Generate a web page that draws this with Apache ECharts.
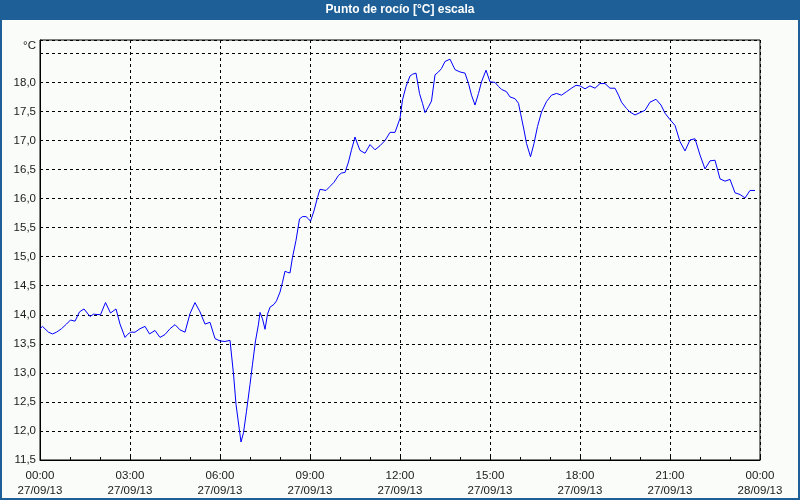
<!DOCTYPE html>
<html><head><meta charset="utf-8">
<script src="https://cdn.jsdelivr.net/npm/echarts@6/dist/echarts.min.js"></script>
<style>html,body{margin:0;padding:0;background:#fafcfa}#c{width:800px;height:500px}</style>
</head><body><div id="c"></div>
<script>
const titleText = 'Punto de rocío [°C] escala';
const unitLabel = '°C';
const dateLabels = ['27/09/13', '28/09/13'];
const minutes = [
  0,5,17,25,33,43,53,61,70,79,88,100,107,121,131,141,152,160,170,175,
  181,190,200,210,219,230,240,250,260,270,280,290,300,310,320,330,340,350,360,370,
  380,383,387,392,399,402,407,413,420,425,431,437,440,445,450,455,460,468,473,480,
  485,490,495,500,505,512,519,525,532,537,541,548,555,560,572,580,588,597,603,610,
  617,623,630,635,640,650,660,670,680,690,700,710,720,725,732,740,745,752,759,765,
  770,777,783,790,797,803,810,820,830,840,850,857,863,870,877,883,892,900,910,917,
  923,933,940,950,957,961,968,973,981,988,995,1003,1013,1023,1033,1043,1053,1063,1072,1080,
  1090,1100,1110,1120,1130,1140,1150,1157,1163,1173,1180,1190,1200,1210,1220,1232,1242,1250,1260,1270,
  1280,1290,1300,1310,1320,1330,1340,1350,1360,1370,1380,1390,1400,1410,1420,1430
];
const dewPoint = [
  13.76,13.80,13.70,13.67,13.70,13.76,13.84,13.91,13.89,14.05,14.10,13.97,14.01,14.00,14.21,14.03,14.10,13.84,13.61,13.66,
  13.70,13.70,13.76,13.80,13.67,13.73,13.61,13.66,13.76,13.83,13.74,13.70,14.02,14.21,14.05,13.84,13.87,13.59,13.55,13.54,
  13.56,13.57,12.98,12.46,12.00,11.81,11.97,12.34,12.80,13.15,13.55,13.84,14.04,13.93,13.75,14.01,14.13,14.18,14.24,14.39,
  14.56,14.75,14.73,14.72,14.99,15.28,15.65,15.69,15.69,15.65,15.61,15.79,16.02,16.16,16.14,16.21,16.28,16.40,16.44,16.45,
  16.63,16.84,17.06,16.94,16.83,16.78,16.93,16.84,16.91,17.00,17.14,17.14,17.38,17.70,17.93,18.11,18.14,18.16,17.81,17.64,
  17.48,17.58,17.68,18.13,18.18,18.24,18.36,18.40,18.22,18.18,18.16,17.98,17.78,17.61,17.81,18.01,18.21,18.01,18.00,17.93,
  17.88,17.84,17.75,17.72,17.64,17.47,17.18,16.95,16.72,16.95,17.24,17.49,17.67,17.78,17.81,17.78,17.84,17.90,17.95,17.94,
  17.89,17.94,17.90,17.98,17.98,17.90,17.90,17.78,17.66,17.55,17.49,17.44,17.48,17.52,17.66,17.71,17.61,17.47,17.36,17.26,
  16.98,16.82,17.01,17.03,16.75,16.51,16.65,16.66,16.34,16.30,16.33,16.10,16.07,16.01,16.14,16.14
];

const chart = echarts.init(document.getElementById('c'), null, {renderer: 'canvas'});
const font = 'Liberation Sans, Arial, sans-serif';
const pad = n => (n < 10 ? '0' : '') + n;
chart.setOption({
  animation: false,
  backgroundColor: '#fafcfa',
  title: {
    text: titleText, left: 'center', top: 4, padding: 0,
    textStyle: {color: '#ffffff', fontWeight: 'bold', fontSize: 12, fontFamily: font}
  },
  graphic: [
    {type: 'rect', z: -10, shape: {x: 0, y: 0, width: 800, height: 20}, style: {fill: '#1d5f96'}},
    {type: 'rect', z: -10, shape: {x: 1, y: 1, width: 798, height: 498}, style: {fill: null, stroke: '#1d5f96', lineWidth: 2}}
  ],
  grid: {left: 40, right: 40, top: 40, bottom: 40, show: true, borderColor: '#000', borderWidth: 1, backgroundColor: 'transparent'},
  xAxis: {
    type: 'value', min: 0, max: 1440, interval: 180,
    axisLine: {lineStyle: {color: '#000', width: 1}},
    axisTick: {inside: true, length: 3, lineStyle: {color: '#000'}},
    minorTick: {show: true, splitNumber: 3, length: 3, lineStyle: {color: '#000'}},
    splitLine: {show: true, lineStyle: {color: '#000', type: [3, 3], width: 1}},
    axisLabel: {
      color: '#1a1a1a', fontSize: 11.5, fontFamily: font, margin: 8, lineHeight: 15,
      showMinLabel: true, showMaxLabel: true, interval: 0,
      formatter: v => pad(Math.floor(v / 60) % 24) + ':' + pad(v % 60) + '\n' + (v >= 1440 ? dateLabels[1] : dateLabels[0])
    }
  },
  yAxis: {
    type: 'value', min: 11.5, max: 18.73, interval: 0.5,
    name: unitLabel, nameLocation: 'end', nameGap: -6,
    nameTextStyle: {color: '#1a1a1a', fontSize: 11.5, fontFamily: font, align: 'right', verticalAlign: 'middle', padding: [0, 4, 0, 0]},
    axisLine: {show: true, lineStyle: {color: '#000', width: 1}},
    axisTick: {show: false},
    splitLine: {show: true, lineStyle: {color: '#000', type: [3, 3], width: 1}},
    axisLabel: {
      color: '#1a1a1a', fontSize: 11.5, fontFamily: font, margin: 4,
      formatter: v => (v > 18.4 ? '' : v.toFixed(1).replace('.', ','))
    }
  },
  series: [{
    type: 'line', showSymbol: false, symbol: 'none',
    lineStyle: {color: '#0000ff', width: 1},
    data: minutes.map((m, i) => [m, dewPoint[i]])
  }]
});
</script>
</body></html>
